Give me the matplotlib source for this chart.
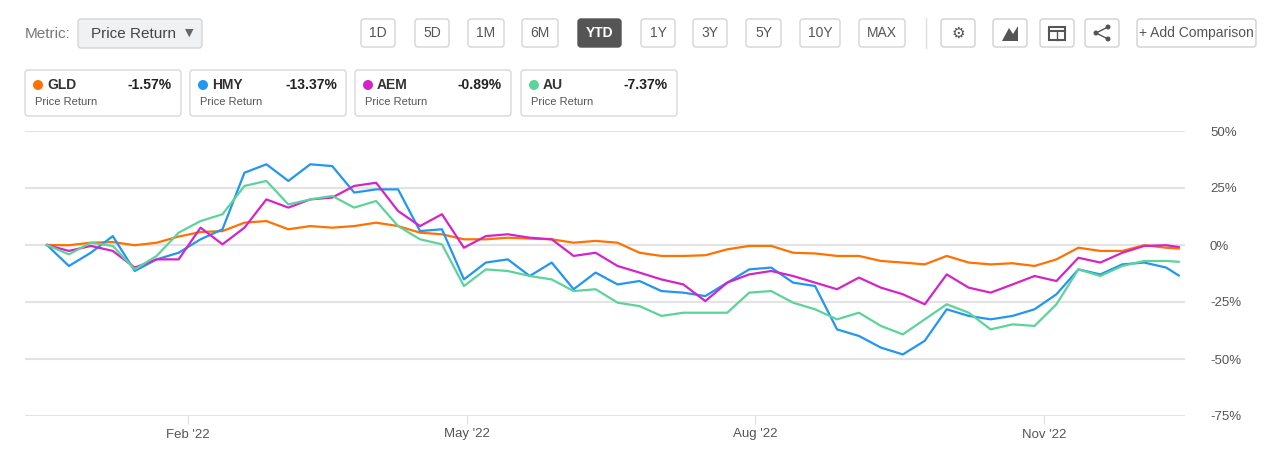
import matplotlib
matplotlib.use("Agg")
import matplotlib.pyplot as plt
from matplotlib.patches import FancyBboxPatch, Circle, Rectangle, Polygon
import pandas as pd

plt.rcParams['font.family'] = ['Liberation Sans', 'DejaVu Sans']

W, H = 1280, 454

# weekly samples (percent return)
dates = list(pd.date_range("2021-12-18", periods=52, freq="7D")) + [pd.Timestamp("2022-12-14")]

gld = [0, -0.1, 1.0, 1.3, -0.1, 1.0, 3.7, 5.7, 6.1, 9.8, 10.5, 6.9, 8.3, 7.6, 8.3, 9.8, 8.3,
       5.4, 4.7, 2.5, 2.5, 3.2, 2.8, 2.5, 1.0, 1.8, 1.0,
       -3.4, -4.8, -4.8, -4.5, -1.9, -0.4, -0.4, -3.4, -3.7, -4.8, -4.8, -7.0, -7.7, -8.5,
       -4.8, -7.7, -8.5, -8.0, -9.2, -6.3, -1.2, -2.6, -2.6, -0.1, -1.2, -1.57]
hmy = [0, -9.2, -3.4, 3.9, -11.4, -6.3, -3.4, 2.5, 6.9, 31.7, 35.4, 28.1, 35.4, 34.6, 23.0,
       24.4, 24.4, 6.1, 6.9, -15.1, -7.7, -6.3, -13.6, -7.7, -19.4, -12.1, -17.3,
       -15.8, -20.2, -20.9, -22.4, -16.5, -10.7, -9.9, -16.5, -18.0, -37.0, -39.9, -45.0,
       -48.0, -42.0, -28.2, -31.1, -32.6, -31.1, -28.2, -21.6, -10.7, -12.9, -8.5, -7.7,
       -9.9, -13.37]
aem = [0, -2.6, -0.4, -2.6, -9.9, -6.3, -6.3, 7.6, 0.3, 7.6, 20.0, 16.4, 20.0, 20.8, 25.9,
       27.3, 14.9, 8.3, 13.5, -1.2, 3.9, 4.7, 3.2, 2.5, -4.8, -3.4, -9.2,
       -12.1, -15.1, -17.3, -24.6, -16.5, -12.9, -11.4, -13.6, -16.5, -19.4, -14.3, -18.7,
       -21.6, -26.0, -12.9, -18.7, -20.9, -17.3, -13.6, -15.8, -5.6, -7.7, -3.4, -0.4,
       -0.1, -0.89]
au = [0, -4.1, 1.0, -0.4, -10.7, -4.8, 5.4, 10.5, 13.5, 25.9, 28.1, 17.8, 20.0, 21.5, 16.4,
      19.3, 8.3, 2.5, 0.3, -18.0, -10.7, -11.4, -13.6, -15.1, -20.2, -19.4, -25.3,
      -26.8, -31.1, -29.7, -29.7, -29.7, -20.9, -20.2, -25.3, -28.2, -32.6, -29.7, -35.5,
      -39.2, -32.6, -26.0, -29.7, -37.0, -34.8, -35.5, -26.0, -10.7, -13.6, -9.2, -7.0,
      -7.0, -7.37]

tickers = ["GLD", "HMY", "AEM", "AU"]
series = [gld, hmy, aem, au]
colors = ["#ff7100", "#2196f3", "#d424c8", "#5dd39a"]
totals = ["-1.57%", "-13.37%", "-0.89%", "-7.37%"]
yticks = [50, 25, 0, -25, -50, -75]
xtick_dates = ["2022-02-01", "2022-05-01", "2022-08-01", "2022-11-01"]
xtick_labels = ["Feb '22", "May '22", "Aug '22", "Nov '22"]
buttons = ["1D", "5D", "1M", "6M", "YTD", "1Y", "3Y", "5Y", "10Y", "MAX"]
button_x = [(361, 395), (415, 449), (468, 504), (522, 558), (578, 621), (641, 675),
            (693, 727), (746, 781), (800, 840), (859, 905)]

fig = plt.figure(figsize=(W / 100, H / 100), dpi=100)
fig.patch.set_facecolor("white")

# overlay in pixel coordinates for the page controls
ui = fig.add_axes([0, 0, 1, 1])
ui.set_xlim(0, W)
ui.set_ylim(H, 0)
ui.axis("off")


def box(x0, y0, x1, y1, fc="white", ec="#d0d0d0", r=3):
    ui.add_patch(FancyBboxPatch((x0, y0), x1 - x0, y1 - y0,
                                boxstyle=f"round,pad=0,rounding_size={r}", fc=fc, ec=ec, lw=1))


ui.text(25, 34, "Metric:", fontsize=11, color="#777777", va="center")
box(78, 19, 202, 48, fc="#f0f1f3", ec="#d5d5d5")
ui.text(91, 34, "Price Return", fontsize=11, color="#444444", va="center")
ui.text(189, 33, "▼", fontsize=8, color="#666666", va="center", ha="center", family="DejaVu Sans")

for lab, (x0, x1) in zip(buttons, button_x):
    active = lab == "YTD"
    box(x0, 19, x1, 47, fc="#555555" if active else "white", ec="#555555" if active else "#d5d5d5")
    ui.text((x0 + x1) / 2, 33, lab, fontsize=10, ha="center", va="center",
            color="white" if active else "#555555", weight="bold" if active else "normal")

ui.plot([926, 926], [18, 48], color="#dddddd", lw=1)
for x0, x1 in [(941, 975), (993, 1027), (1040, 1074), (1085, 1119)]:
    box(x0, 19, x1, 47)
ui.text(958, 33, "⚙", fontsize=11, ha="center", va="center", color="#555555", family="DejaVu Sans")
ui.add_patch(Polygon([(1002, 41), (1009, 28), (1013, 34), (1018, 26), (1018, 41)], closed=True,
                     fc="#555555", ec="none"))
ui.add_patch(Rectangle((1049, 27), 16, 13, fc="white", ec="#555555", lw=1.5))
ui.plot([1049, 1065], [31, 31], color="#555555", lw=1.5)
ui.plot([1057, 1057], [31, 40], color="#555555", lw=1)
ui.plot([1108, 1096, 1108], [27, 33, 39], color="#555555", lw=1)
for cx, cy in [(1096, 33), (1108, 27), (1108, 39)]:
    ui.add_patch(Circle((cx, cy), 2.5, fc="#555555", ec="none"))
box(1137, 19, 1256, 47)
ui.text(1196, 33, "+ Add Comparison", fontsize=10, ha="center", va="center", color="#555555")

# legend cards
for i, (t, c, tot) in enumerate(zip(tickers, colors, totals)):
    x0 = [25, 190, 355, 521][i]
    box(x0, 70, x0 + 156, 116, ec="#d8d8d8")
    ui.add_patch(Circle((x0 + 13, 85), 5, fc=c, ec="none"))
    ui.text(x0 + 22, 85, t, fontsize=10, weight="bold", color="#333333", va="center")
    ui.text(x0 + 147, 85, tot, fontsize=10, weight="bold", color="#222222", va="center", ha="right")
    ui.text(x0 + 10, 102, "Price Return", fontsize=8, color="#555555", va="center")

# chart
ax = fig.add_axes([25 / W, 1 - 416 / H, (1185 - 25) / W, (416 - 131) / H])
for t, s, c in zip(tickers, series, colors):
    ax.plot(dates, s, color=c, lw=1.6, label=t)
ax.set_ylim(-75, 50)
ax.set_xlim(pd.Timestamp("2021-12-11"), pd.Timestamp("2022-12-16"))
ax.set_yticks(yticks)
ax.set_yticklabels([f"{v}%" for v in yticks])
ax.yaxis.tick_right()
ax.tick_params(axis="y", length=0, pad=18, labelsize=9.5, colors="#555555")
ax.grid(axis="y", color="#e3e3e3", lw=1.5)
ax.set_axisbelow(True)
ax.set_xticks([pd.Timestamp(d) for d in xtick_dates])
ax.set_xticklabels(xtick_labels)
ax.tick_params(axis="x", length=6, color="#dddddd", labelsize=9.5, colors="#555555", pad=3)
for sp in ax.spines.values():
    sp.set_visible(False)

fig.savefig("out.png", dpi=100)
